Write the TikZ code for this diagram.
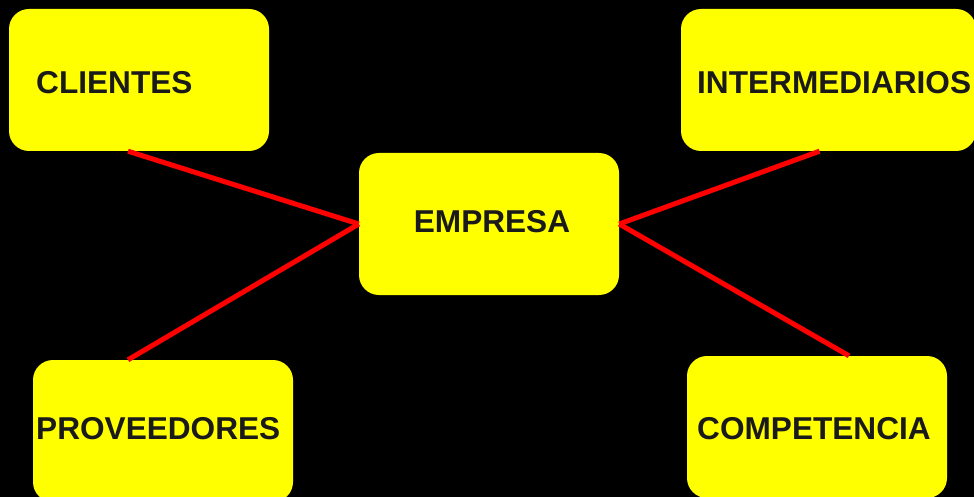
\documentclass[tikz,border=0pt]{standalone}
\usepackage{fontspec}
\setmainfont{Liberation Sans}
\usepackage{tikz}
\definecolor{amarillo}{HTML}{FFFF00}
\definecolor{rojo}{HTML}{FF0000}
\definecolor{grisoscuro}{HTML}{1A1A1A}

\begin{document}
\begin{tikzpicture}[x=1pt, y=-1pt,
		caja/.style={fill=amarillo, rounded corners=20pt, inner sep=0pt, minimum width=260pt, minimum height=142pt},
		rotulo/.style={text=grisoscuro, font=\fontsize{31.6}{38}\selectfont\bfseries, inner sep=0pt, anchor=base west},
		enlace/.style={rojo, line width=5pt}]
		\fill[black] (0, 0) rectangle (974, 497);
		\useasboundingbox (0, 0) rectangle (974, 497);
		\node[caja] (cli) at (139, 80) {};
		\node[caja, minimum width=295pt] (inter) at (828.5, 80) {};
		\node[caja] (emp) at (489, 224) {};
		\node[caja] (prov) at (163, 431) {};
		\node[caja] (comp) at (817, 427) {};
		\node[rotulo] (cli-t) at (36, 94) {CLIENTES};
		\node[rotulo] (inter-t) at (697, 94) {INTERMEDIARIOS};
		\node[rotulo, anchor=base] (emp-t) at (492, 232) {EMPRESA};
		\node[rotulo] (prov-t) at (36, 439) {PROVEEDORES};
		\node[rotulo] (comp-t) at (697, 439) {COMPETENCIA};
		\draw[enlace] (emp.west) to ([xshift=-11pt]cli.south);
		\draw[enlace] (emp.west) to ([xshift=-35pt]prov.north);
		\draw[enlace] (emp.east) to ([xshift=-9pt]inter.south);
		\draw[enlace] (emp.east) to ([xshift=32pt]comp.north);
	\end{tikzpicture}
\end{document}
